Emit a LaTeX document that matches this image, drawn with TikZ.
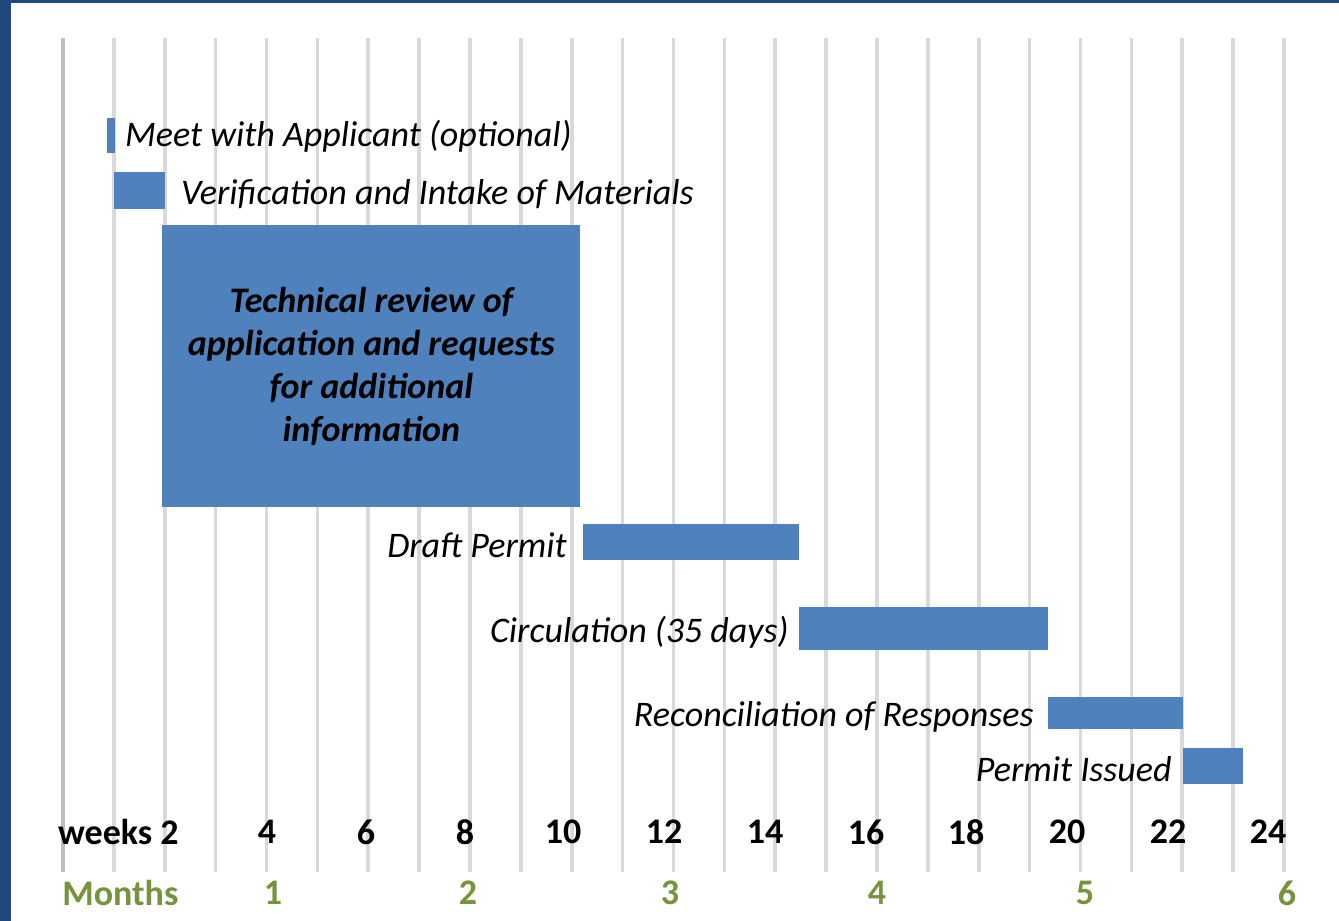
\documentclass[tikz,border=0pt]{standalone}
\usepackage{fontspec}
\setmainfont{Carlito}
\usetikzlibrary{positioning}
\definecolor{barblue}{HTML}{4F81BD}
\definecolor{frameblue}{HTML}{1F497D}
\definecolor{monthgreen}{HTML}{77933C}
\definecolor{gridgray}{HTML}{D9D9D9}
\definecolor{axisgray}{HTML}{BFBFBF}
\begin{document}
\begin{tikzpicture}[x=0.5pt,y=-0.5pt,
		bar/.style={fill=barblue,draw=none,inner sep=0,anchor=north west},
		task/.style={inner sep=0,yshift=-1.5pt,font=\fontsize{18}{21}\selectfont\itshape},
		wk/.style={inner sep=0,font=\fontsize{18}{21}\selectfont\bfseries},
		mo/.style={wk,text=monthgreen}]
		\useasboundingbox (0,0) rectangle (1339,921);
		\fill[white] (0,0) rectangle (1339,921);
		%\draw[red] (0,0) rectangle (1339,921);
		\fill[frameblue] (0,0) rectangle (11,921);
		\fill[frameblue] (0,0) rectangle (1339,3);
		\draw[axisgray,line width=1.6pt] (63,38) -- (63,872);
		\foreach \i in {1,...,24}
			\draw[gridgray,line width=1.8pt] (63+50.875*\i,38) -- (63+50.875*\i,872);
		\node[bar,minimum width=4pt,minimum height=17.5pt] (meet) at (107,118) {};
		\node[bar,minimum width=25.5pt,minimum height=18.5pt] (verif) at (114,172) {};
		\node[bar,minimum width=209pt,minimum height=141pt,align=center,
			font=\fontsize{18}{21.5}\selectfont\bfseries\itshape] (tech) at (162,225)
			{Technical review of\\application and requests\\for additional\\information};
		\node[bar,minimum width=108pt,minimum height=18pt] (draft) at (583,524) {};
		\node[bar,minimum width=124.5pt,minimum height=21.5pt] (circ) at (799,607) {};
		\node[bar,minimum width=67.5pt,minimum height=16pt] (recon) at (1048,697) {};
		\node[bar,minimum width=30pt,minimum height=18pt] (issued) at (1183,748) {};
		\node[task,right=4.5pt of meet,yshift=1.5pt] (meetlbl) {Meet with Applicant (optional)};
		\node[task,right=7.5pt of verif] (veriflbl) {Verification and Intake of Materials};
		\node[task,left=8pt of draft] (draftlbl) {Draft Permit};
		\node[task,left=5pt of circ] (circlbl) {Circulation (35 days)};
		\node[task,left=7pt of recon] (reconlbl) {Reconciliation of Responses};
		\node[task,left=5.5pt of issued] (issuedlbl) {Permit Issued};
		\node[wk,anchor=east] (wk2) at (179,832) {weeks 2};
		\foreach \w/\x in {4/267,6/366,8/465,10/563,12/664,14/765,16/866,18/966,20/1067,22/1168,24/1268}
			\node[wk] (wk\w) at (\x,832) {\w};
		\node[mo,anchor=west] (months) at (62,893) {Months};
		\foreach \m/\x in {1/273,2/468,3/670,4/877,5/1085,6/1287}
			\node[mo] (mo\m) at (\x,893) {\m};
	\end{tikzpicture}
\end{document}
